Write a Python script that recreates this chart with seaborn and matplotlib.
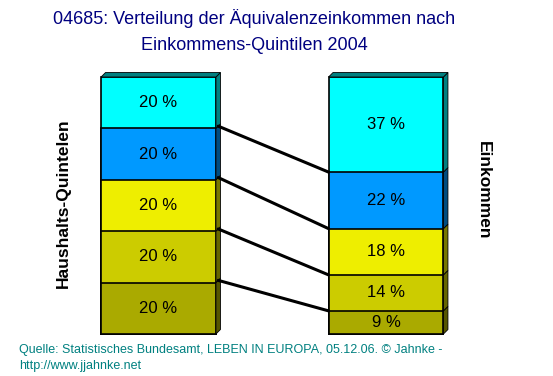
"""Verteilung der Aequivalenzeinkommen nach Einkommens-Quintilen 2004."""

import matplotlib.pyplot as plt
import seaborn as sns
import pandas as pd
import numpy as np
from matplotlib.patches import Polygon

# data (bottom to top)
columns = ["Haushalts-Quintelen", "Einkommen"]
household_share = [20, 20, 20, 20, 20]
income_share = [9, 14, 18, 22, 37]
segment_colors = ["#AAAA00", "#CCCC00", "#EEEE00", "#0099FF", "#00FFFF"]
side_colors = ["#555500", "#666600", "#777700", "#004C80", "#008080"]

sns.set_style("white")
plt.rcParams["font.family"] = ["Liberation Sans", "DejaVu Sans"]

fig = plt.figure(figsize=(5.53, 3.76), dpi=100)
ax = fig.add_axes([0, 0, 1, 1])

bar_w = 0.505
shares = {columns[0]: household_share, columns[1]: income_share}
depth_x, depth_y = 4.5 / 227.5, 4.5 / 2.57

# stacked bars: draw cumulative heights from tallest to shortest
for i in range(4, -1, -1):
    df = pd.DataFrame({
        "col": columns,
        "cum": [np.cumsum(shares[c])[i] for c in columns],
    })
    sns.barplot(data=df, x="col", y="cum", color=segment_colors[i], width=bar_w,
                edgecolor="black", linewidth=1.2, saturation=1, ax=ax, zorder=2)

ax.set_xlim(-158.5 / 227.5, (553 - 158.5) / 227.5)
ax.set_ylim(-42 / 2.57, (376 - 42) / 2.57)
ax.axis("off")

# 3D side and top faces, labels
for xi, c in enumerate(columns):
    vals = shares[c]
    cum = np.concatenate([[0], np.cumsum(vals)])
    right = xi + bar_w / 2
    left = xi - bar_w / 2
    for k, v in enumerate(vals):
        lo, hi = cum[k], cum[k + 1]
        ax.add_patch(Polygon([(right, lo), (right + depth_x, lo + depth_y),
                              (right + depth_x, hi + depth_y), (right, hi)],
                             closed=True, facecolor=side_colors[k], edgecolor="black",
                             linewidth=0.6, zorder=3))
        ax.text(xi, (lo + hi) / 2, f"{v} %", ha="center", va="center",
                fontsize=12, color="black", zorder=5)
    ax.add_patch(Polygon([(left, cum[-1]), (left + depth_x, cum[-1] + depth_y),
                          (right + depth_x, cum[-1] + depth_y), (right, cum[-1])],
                         closed=True, facecolor=side_colors[-1], edgecolor="black",
                         linewidth=0.6, zorder=3))

# connector lines between quintile boundaries
left_cum = np.cumsum(household_share)[:-1]
right_cum = np.cumsum(income_share)[:-1]
for lc, rc in zip(left_cum, right_cum):
    ax.plot([bar_w / 2 + depth_x * 0.5, 1 - bar_w / 2], [lc + depth_y * 0.5, rc],
            color="black", linewidth=2.2, solid_capstyle="round", zorder=4)

fig.text(254 / 553, 1 - 19 / 376, "04685: Verteilung der Äquivalenzeinkommen nach",
         ha="center", va="center", fontsize=13, color="#000080")
fig.text(254 / 553, 1 - 45 / 376, "Einkommens-Quintilen 2004",
         ha="center", va="center", fontsize=13, color="#000080")
fig.text(63 / 553, 1 - 203 / 376, columns[0], rotation=90, ha="center", va="center",
         fontsize=12.5, fontweight="bold", color="black")
fig.text(483 / 553, 1 - 190 / 376, columns[1], rotation=-90, ha="center", va="center",
         fontsize=12.5, fontweight="bold", color="black")
fig.text(19 / 553, 1 - 350 / 376,
         "Quelle: Statistisches Bundesamt, LEBEN IN EUROPA, 05.12.06. © Jahnke -",
         ha="left", va="center", fontsize=9, color="#008080")
fig.text(19 / 553, 1 - 366 / 376, "http://www.jjahnke.net",
         ha="left", va="center", fontsize=9, color="#008080")

fig.savefig("out.png", dpi=100)
plt.close(fig)
